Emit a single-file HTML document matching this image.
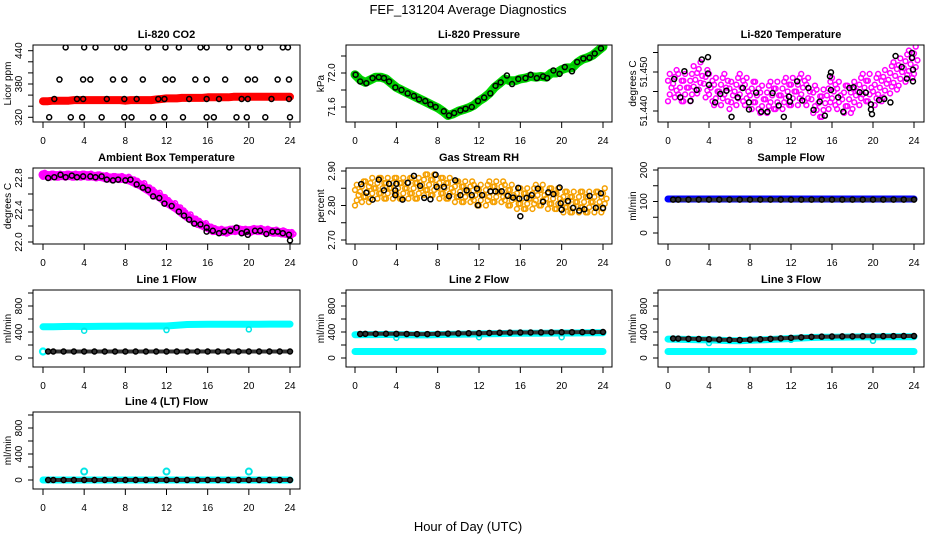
<!DOCTYPE html>
<html><head><meta charset="utf-8"><style>
html,body{margin:0;padding:0;background:#fff;}
svg{display:block;font-family:"Liberation Sans",sans-serif;}
</style></head><body>
<svg id="c" width="936" height="540" viewBox="0 0 936 540">
<rect x="0" y="0" width="936" height="540" fill="#fff"/>
<text x="468" y="14" text-anchor="middle" font-size="13">FEF_131204  Average Diagnostics</text>
<text x="468" y="531" text-anchor="middle" font-size="13">Hour of Day (UTC)</text>
</svg>
<script>
// ---- data ----
const H25 = [0,1,2,3,4,5,6,7,8,9,10,11,12,13,14,15,16,17,18,19,20,21,22,23,24];
const HB25 = [0.5,1,2,3,4,5,6,7,8,9,10,11,12,13,14,15,16,17,18,19,20,21,22,23,24];
const H49 = [0,0.5,1,1.5,2,2.5,3,3.5,4,4.5,5,5.5,6,6.5,7,7.5,8,8.5,9,9.5,10,10.5,11,11.5,12,12.5,13,13.5,14,14.5,15,15.5,16,16.5,17,17.5,18,18.5,19,19.5,20,20.5,21,21.5,22,22.5,23,23.5,24];
const xTicks = [0,4,8,12,16,20,24];

const co2Red = [349,349,350,350,350,350,351,351,351,351,351,351,351,351,351,351,350,351,351,351,351,351,352,353,354,354,354,355,355,355,355,355,356,356,356,356,356,357,357,357,357,357,357,357,357,357,357,357,357];
const co2BlackH = [2.2,4.0,5.1,7.2,7.9,10.2,11.9,13.2,15.3,15.9,18.1,19.9,21.1,23.3,23.8,1.6,3.9,4.6,6.8,7.9,9.7,11.9,12.6,14.8,15.9,17.7,19.9,20.6,22.8,23.9,1.1,3.3,3.9,6.2,7.9,9.1,11.2,11.8,14.2,15.9,17.1,19.3,19.9,22.2,23.9,0.6,2.7,3.8,5.7,7.9,8.6,10.7,11.8,13.6,15.9,16.6,18.8,19.8,21.6,24.0];
const co2BlackV = [446,446,446,446,446,446,446,446,446,446,446,446,446,446,446,388,388,388,388,388,388,388,388,388,388,388,388,388,388,388,353,353,353,353,353,353,353,353,353,353,353,353,353,353,353,320,320,320,320,320,320,320,320,320,320,320,320,320,320,320];

const presGreen = [71.98,71.92,71.89,71.92,71.95,71.95,71.93,71.88,71.83,71.80,71.77,71.74,71.71,71.68,71.65,71.62,71.59,71.55,71.50,71.52,71.55,71.57,71.59,71.62,71.67,71.71,71.76,71.83,71.88,71.93,71.91,71.91,71.93,71.94,71.96,71.95,71.96,71.95,72.00,72.00,72.04,72.06,72.06,72.12,72.16,72.18,72.21,72.26,72.31];
const presBlackH = [0.06,0.5,1.1,1.7,2.3,2.8,3.3,3.9,4.5,5.1,5.7,6.2,6.8,7.3,7.8,8.6,9.1,9.6,10.2,10.7,11.3,11.9,12.5,13.1,13.6,14.1,14.7,15.2,15.8,16.5,17.0,17.6,18.2,18.6,19.2,19.8,20.3,21.0,21.5,22.1,22.7,23.2,23.8];
const presBlackV = [71.98,71.90,71.88,71.94,71.95,71.94,71.90,71.83,71.80,71.76,71.73,71.69,71.67,71.63,71.60,71.55,71.50,71.53,71.56,71.58,71.60,71.67,71.71,71.76,71.85,71.89,71.97,71.87,71.93,71.94,71.98,71.94,71.96,71.94,72.03,71.99,72.07,72.02,72.13,72.17,72.18,72.23,72.29];

const tempPink = [51.446,51.447,51.446,51.446,51.446,51.448,51.449,51.447,51.446,51.445,51.445,51.446,51.444,51.445,51.446,51.445,51.444,51.444,51.443,51.443,51.444,51.444,51.444,51.445,51.445,51.445,51.446,51.445,51.443,51.442,51.442,51.444,51.445,51.444,51.443,51.443,51.444,51.445,51.446,51.446,51.445,51.446,51.447,51.448,51.449,51.450,51.451,51.452,51.453];
const tempBlackH = [0.6,1.2,1.6,2.2,2.8,3.3,3.9,3.9,4.0,4.6,5.1,5.7,6.2,6.8,7.3,7.9,7.9,8.6,9.1,9.7,10.2,10.8,11.3,11.8,11.9,12.6,13.1,13.7,14.2,14.8,15.3,15.8,15.9,15.9,16.6,17.1,17.7,18.1,18.7,19.3,19.8,19.8,19.9,20.6,21.1,21.7,22.2,22.8,23.3,23.8,23.8,23.9,23.9];
const tempBlackV = [51.4482,51.4435,51.4502,51.4426,51.4454,51.4532,51.4538,51.4496,51.4467,51.4422,51.4444,51.4452,51.4385,51.4435,51.4459,51.4422,51.4404,51.4447,51.4398,51.4398,51.4446,51.4414,51.4385,51.4437,51.4424,51.4476,51.4427,51.4459,51.4403,51.4424,51.4388,51.4489,51.4499,51.4454,51.4435,51.4398,51.4459,51.4461,51.4448,51.4447,51.4417,51.4404,51.4392,51.4428,51.4431,51.4422,51.4541,51.4513,51.4483,51.4549,51.4536,51.4506,51.4476];

const ambPink = [22.84,22.83,22.83,22.83,22.83,22.83,22.83,22.83,22.83,22.83,22.82,22.82,22.81,22.80,22.80,22.80,22.79,22.77,22.74,22.71,22.67,22.63,22.59,22.55,22.50,22.46,22.42,22.37,22.32,22.28,22.24,22.21,22.18,22.15,22.14,22.13,22.14,22.15,22.15,22.14,22.14,22.15,22.15,22.14,22.13,22.13,22.12,22.11,22.10];
const ambBlackH = [0.5,1.1,1.7,2.2,2.8,3.3,3.9,4.6,5.1,5.7,6.2,6.8,7.3,8.0,8.5,9.1,9.7,10.2,10.7,11.3,11.8,12.5,13.2,13.7,14.2,14.7,15.3,15.9,15.9,16.5,17.1,17.6,18.2,18.8,19.3,19.8,19.9,20.6,21.1,21.7,22.3,22.8,23.3,23.9,24.0];
const ambBlackV = [22.80,22.81,22.84,22.81,22.83,22.81,22.82,22.82,22.81,22.82,22.78,22.77,22.78,22.77,22.78,22.72,22.68,22.65,22.57,22.55,22.48,22.45,22.38,22.33,22.28,22.23,22.22,22.18,22.13,22.14,22.11,22.13,22.14,22.18,22.11,22.13,22.09,22.14,22.14,22.10,22.13,22.13,22.11,22.09,22.02];

const rhOrange = [2.83,2.84,2.84,2.85,2.85,2.85,2.85,2.85,2.85,2.85,2.85,2.85,2.85,2.86,2.86,2.86,2.85,2.85,2.85,2.84,2.84,2.84,2.84,2.83,2.83,2.83,2.84,2.84,2.84,2.83,2.83,2.82,2.82,2.82,2.82,2.83,2.83,2.82,2.82,2.82,2.81,2.81,2.81,2.81,2.81,2.81,2.81,2.81,2.82];
const rhBlackH = [0.6,1.1,1.7,2.3,2.8,3.3,3.9,4.0,3.9,4.6,5.1,5.7,6.3,6.7,7.3,7.8,7.9,8.6,9.1,9.7,10.2,10.8,11.3,11.8,11.9,12.3,13.1,13.6,14.2,14.8,15.3,15.8,16.0,15.9,16.6,17.1,17.7,18.2,18.7,19.2,19.8,19.9,20.0,20.6,21.1,21.7,22.2,22.7,23.3,23.8,24.0];
const rhBlackV = [2.862,2.837,2.817,2.875,2.844,2.863,2.844,2.863,2.830,2.817,2.866,2.886,2.857,2.822,2.818,2.889,2.854,2.854,2.827,2.873,2.830,2.844,2.830,2.849,2.801,2.830,2.841,2.841,2.841,2.828,2.823,2.851,2.769,2.820,2.822,2.830,2.849,2.811,2.838,2.833,2.852,2.806,2.788,2.813,2.793,2.785,2.789,2.828,2.793,2.835,2.793];

const sampleBlue = [108,108,108,108,108,108,108,108,108,108,108,108,108,108,108,108,108,108,108,108,108,108,108,108,108];
const sampleBlack = [106,106,106,106,106,106,106,106,106,106,106,106,106,106,106,106,106,106,106,106,106,106,106,106,106];

const l1Cyan = [480,482,484,486,485,486,487,488,490,490,491,492,493,505,515,517,518,518,519,519,520,520,521,521,522];
const l1Black = [100,100,100,100,100,100,100,100,100,100,100,100,100,100,100,100,100,100,100,100,100,100,100,100,100];
const l1CyanLowH = [0];
const l1CyanLowV = [100];
const dipH = [4,12,20];
const l1DipV = [420,430,440];

const l2Black = [370,372,372,373,372,370,368,368,372,375,378,380,382,385,388,390,392,393,394,395,396,397,398,399,400];
const l2Cyan = [358,360,360,361,360,358,356,356,360,363,366,368,370,373,376,378,380,381,382,383,384,385,386,387,388];
const l2Low = [100,100,100,100,100,100,100,100,100,100,100,100,100,100,100,100,100,100,100,100,100,100,100,100,100];
const l2DipV = [310,320,320];

const l3Black = [300,298,295,292,288,282,278,276,282,288,295,302,310,318,325,328,330,332,333,334,335,336,337,338,338];
const l3Cyan = [290,288,285,282,278,272,268,266,272,278,285,292,300,308,315,318,320,322,323,324,325,326,327,328,328];
const l3Low = [100,100,100,100,100,100,100,100,100,100,100,100,100,100,100,100,100,100,100,100,100,100,100,100,100];
const l3DipV = [230,280,265];

const l4Black = [0,0,0,0,0,0,0,0,0,0,0,0,0,0,0,0,0,0,0,0,0,0,0,0,0];
const l4Cyan = [0,0,0,0,0,0,0,0,0,0,0,0,0,0,0,0,0,0,0,0,0,0,0,0,0];
const l4SpikeV = [130,130,130];

// ---- layout ----
const NS = 'http://www.w3.org/2000/svg';
const svg = document.getElementById('c');
const COLS = [{l:33,r:300,x0:43,x1:290},{l:346,r:612,x0:355,x1:603},{l:658,r:924,x0:668,x1:914}];
const ROWS = [{t:45,b:122},{t:168,b:244},{t:290,b:367},{t:412,b:489}];

function mk(tag, attrs, parent, name, inter) {
  const el = document.createElementNS(NS, tag);
  for (const k in attrs) el.setAttribute(k, attrs[k]);
  
  
  parent.appendChild(el);
  return el;
}

function panel(cfg) {
  const c = COLS[cfg.col], r = ROWS[cfg.row];
  const g = mk('g', {}, svg, cfg.name, false);
  const X = h => c.x0 + (h / 24) * (c.x1 - c.x0);
  const Y = v => cfg.p1 + (v - cfg.v1) * (cfg.p2 - cfg.p1) / (cfg.v2 - cfg.v1);
  const clip = 'clip-' + cfg.name;
  const cp = mk('clipPath', {id: clip}, g, 'plot-clip', false);
  mk('rect', {x: c.l, y: r.t, width: c.r - c.l, height: r.b - r.t}, cp, 'clip-rect', false);
  const plot = mk('g', {'clip-path': 'url(#' + clip + ')'}, g, 'plot-area', false);
  mk('rect', {x: c.l, y: r.t, width: c.r - c.l, height: r.b - r.t, fill: 'none', stroke: '#000', 'stroke-width': 1}, g, 'plot-frame', false);
  const t = mk('text', {x: (c.l + c.r) / 2, y: r.t - 7, 'text-anchor': 'middle', 'font-size': 11, 'font-weight': 'bold'}, g, 'panel-title', false);
  t.textContent = cfg.title;
  mk('line', {x1: c.x0, y1: r.b, x2: c.x1, y2: r.b, stroke: '#000'}, g, 'x-axis-line', false);
  xTicks.forEach(h => {
    mk('line', {x1: X(h), y1: r.b, x2: X(h), y2: r.b + 6, stroke: '#000'}, g, 'x-tick', false);
    const tl = mk('text', {x: X(h), y: r.b + 22, 'text-anchor': 'middle', 'font-size': 10}, g, 'x-tick-label', false);
    tl.textContent = String(h);
  });
  const ys = cfg.ticks.map(Y);
  mk('line', {x1: c.l, y1: Math.min(...ys), x2: c.l, y2: Math.max(...ys), stroke: '#000'}, g, 'y-axis-line', false);
  cfg.ticks.forEach(v => {
    mk('line', {x1: c.l - 5, y1: Y(v), x2: c.l, y2: Y(v), stroke: '#000'}, g, 'y-tick', false);
  });
  cfg.labels.forEach((v, i) => {
    const yl = mk('text', {x: 0, y: 0, 'text-anchor': 'middle', 'font-size': 10, transform: 'translate(' + (c.l - 11) + ',' + Y(v) + ') rotate(-90)'}, g, 'y-tick-label', false);
    yl.textContent = cfg.labelText[i];
  });
  const yt = mk('text', {x: 0, y: 0, 'text-anchor': 'middle', 'font-size': 10, transform: 'translate(' + (c.l - 22) + ',' + ((r.t + r.b) / 2) + ') rotate(-90)'}, g, 'y-axis-title', false);
  yt.textContent = cfg.ytitle;
  return {plot, X, Y};
}

function band(P, hs, vs, color, w, name) {
  const pts = hs.map((h, i) => P.X(h).toFixed(1) + ',' + P.Y(vs[i]).toFixed(1)).join(' ');
  mk('polyline', {points: pts, fill: 'none', stroke: color, 'stroke-width': w, 'stroke-linejoin': 'round', 'stroke-linecap': 'round'}, P.plot, name, false);
}
function dots(P, hs, vs, color, name, rad, sw) {
  hs.forEach((h, i) => {
    mk('circle', {cx: P.X(h), cy: P.Y(vs[i]), r: rad || 2.5, fill: 'none', stroke: color, 'stroke-width': sw || 1.5}, P.plot, name, false);
  });
}
function cloud(P, hs, vs, spread, color, name) {
  const ks = [-1, -0.5, 0, 0.5, 1];
  hs.forEach((h, i) => {
    ks.forEach((k, j) => {
      const dx = ((i + j) % 3) * 0.17;
      mk('circle', {cx: P.X(h + dx), cy: P.Y(vs[i] + k * spread), r: 2.4, fill: 'none', stroke: color, 'stroke-width': 1.5}, P.plot, name, false);
    });
  });
}

let P;
P = panel({name:'panel-co2', col:0, row:0, title:'Li-820 CO2', ytitle:'Licor ppm', v1:320, p1:117.3, v2:440, p2:50.7, ticks:[320,340,360,380,400,420,440], labels:[320,380,440], labelText:['320','380','440']});
band(P, H49, co2Red, '#f00', 8, 'co2-red-band');
dots(P, H49, co2Red, '#f00', 'co2-red-point');
dots(P, co2BlackH, co2BlackV, '#000', 'co2-black-point');

P = panel({name:'panel-pressure', col:1, row:0, title:'Li-820 Pressure', ytitle:'kPa', v1:72.0, p1:73, v2:71.6, p2:107, ticks:[71.6,71.8,72.0,72.2], labels:[71.6,72.0], labelText:['71.6','72.0']});
band(P, H49, presGreen, '#00e000', 9, 'pressure-green-band');
dots(P, H49, presGreen, '#00c000', 'pressure-green-point', 3, 1.8);
dots(P, presBlackH, presBlackV, '#000', 'pressure-black-point');

P = panel({name:'panel-li820-temp', col:2, row:0, title:'Li-820 Temperature', ytitle:'degrees C', v1:51.440, p1:111, v2:51.450, p2:72, ticks:[51.440,51.445,51.450,51.455], labels:[51.440,51.450], labelText:['51.440','51.450']});
cloud(P, H49, tempPink, 0.0035, '#ff00ff', 'temp-magenta-point');
dots(P, tempBlackH, tempBlackV, '#000', 'temp-black-point');

P = panel({name:'panel-ambient-temp', col:0, row:1, title:'Ambient Box Temperature', ytitle:'degrees C', v1:22.8, p1:178, v2:22.0, p2:242, ticks:[22.0,22.2,22.4,22.6,22.8], labels:[22.0,22.4,22.8], labelText:['22.0','22.4','22.8']});
band(P, H49, ambPink, '#ff00ff', 9, 'ambient-magenta-band');
cloud(P, H49, ambPink, 0.025, '#ff00ff', 'ambient-magenta-point');
dots(P, ambBlackH, ambBlackV, '#000', 'ambient-black-point');

P = panel({name:'panel-gas-rh', col:1, row:1, title:'Gas Stream RH', ytitle:'percent', v1:2.90, p1:171, v2:2.70, p2:240, ticks:[2.70,2.75,2.80,2.85,2.90], labels:[2.70,2.80,2.90], labelText:['2.70','2.80','2.90']});
cloud(P, H49, rhOrange, 0.03, '#f5a000', 'rh-orange-point');
dots(P, rhBlackH, rhBlackV, '#000', 'rh-black-point');

P = panel({name:'panel-sample-flow', col:2, row:1, title:'Sample Flow', ytitle:'ml/min', v1:0, p1:233, v2:200, p2:170, ticks:[0,50,100,150,200], labels:[0,100,200], labelText:['0','100','200']});
band(P, H25, sampleBlue, '#0000ff', 7, 'sample-blue-band');
band(P, HB25, sampleBlack, '#333', 4, 'sample-black-band');
dots(P, HB25, sampleBlack, '#000', 'sample-black-point');

const flowTicks = [0,200,400,600,800,1000];
P = panel({name:'panel-line1-flow', col:0, row:2, title:'Line 1 Flow', ytitle:'ml/min', v1:0, p1:358, v2:800, p2:306, ticks:flowTicks, labels:[0,400,800], labelText:['0','400','800']});
band(P, H25, l1Cyan, '#00ffff', 7, 'line1-cyan-band');
dots(P, dipH, l1DipV, '#00e5e5', 'line1-cyan-dip');
dots(P, l1CyanLowH, l1CyanLowV, '#00ffff', 'line1-cyan-low', 3, 2.2);
band(P, HB25, l1Black, '#333', 4, 'line1-black-band');
dots(P, HB25, l1Black, '#000', 'line1-black-point');

P = panel({name:'panel-line2-flow', col:1, row:2, title:'Line 2 Flow', ytitle:'ml/min', v1:0, p1:358, v2:800, p2:306, ticks:flowTicks, labels:[0,400,800], labelText:['0','400','800']});
band(P, H25, l2Low, '#00ffff', 7, 'line2-cyan-low-band');
band(P, H25, l2Cyan, '#00ffff', 7, 'line2-cyan-band');
dots(P, dipH, l2DipV, '#00e5e5', 'line2-cyan-dip');
band(P, HB25, l2Black, '#333', 4, 'line2-black-band');
dots(P, HB25, l2Black, '#000', 'line2-black-point');

P = panel({name:'panel-line3-flow', col:2, row:2, title:'Line 3 Flow', ytitle:'ml/min', v1:0, p1:358, v2:800, p2:306, ticks:flowTicks, labels:[0,400,800], labelText:['0','400','800']});
band(P, H25, l3Low, '#00ffff', 7, 'line3-cyan-low-band');
band(P, H25, l3Cyan, '#00ffff', 7, 'line3-cyan-band');
dots(P, dipH, l3DipV, '#00e5e5', 'line3-cyan-dip');
band(P, HB25, l3Black, '#333', 4, 'line3-black-band');
dots(P, HB25, l3Black, '#000', 'line3-black-point');

P = panel({name:'panel-line4-flow', col:0, row:3, title:'Line 4 (LT) Flow', ytitle:'ml/min', v1:0, p1:480, v2:800, p2:428, ticks:flowTicks, labels:[0,400,800], labelText:['0','400','800']});
band(P, H25, l4Cyan, '#00ffff', 7, 'line4-cyan-band');
dots(P, dipH, l4SpikeV, '#00e5e5', 'line4-cyan-spike', 3, 2);
band(P, HB25, l4Black, '#333', 4, 'line4-black-band');
dots(P, HB25, l4Black, '#000', 'line4-black-point');
</script>
</body></html>
